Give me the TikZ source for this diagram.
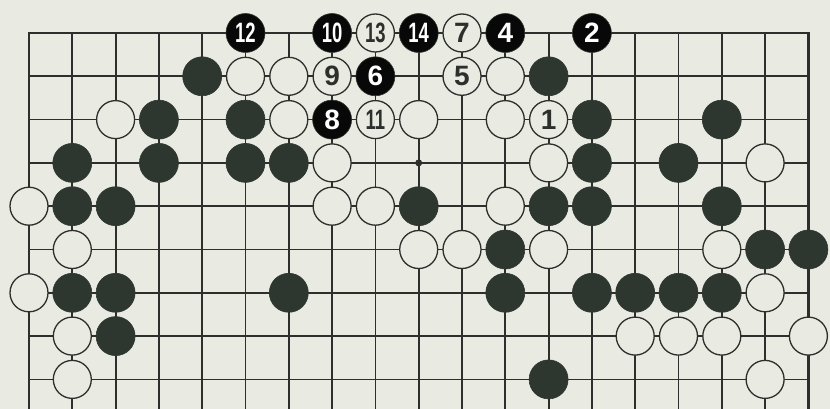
\documentclass[tikz,border=0pt]{standalone}
\usepackage{fontspec}
\setmainfont{Liberation Sans}
\usepackage{tikz}
\usetikzlibrary{positioning}
\definecolor{paper}{RGB}{233,235,226}
\definecolor{ink}{RGB}{44,47,43}
\definecolor{stoneblack}{RGB}{46,55,47}
\newcommand{\dnum}[1]{\scalebox{0.66}[1]{#1}}
\tikzset{
  gridline/.style={draw=ink, line width=1.8pt},
  edgeline/.style={draw=ink, line width=2.8pt, line cap=rect},
  whitestone/.style={circle, draw=ink, fill=paper, line width=1.3pt, minimum size=38pt, inner sep=0pt},
  blackstone/.style={circle, draw=stoneblack, fill=stoneblack, line width=0.6pt, minimum size=39pt, inner sep=0pt},
  movewhite/.style={whitestone, font=\fontsize{28}{28}\selectfont\bfseries, text=ink},
  moveblack/.style={blackstone, fill=black!85!stoneblack, font=\fontsize{28}{28}\selectfont\bfseries, text=white},
  hoshi/.style={circle, fill=ink, minimum size=7pt, inner sep=0pt}
}
\begin{document}
\begin{tikzpicture}[x=43.3pt, y=-43.3pt]
\useasboundingbox[fill=paper] (-29pt,33pt) rectangle (801pt,-376pt);
% board lines
\foreach \c in {1,...,17} \draw[gridline] (\c,0) -- (\c,8.69);
\foreach \r in {1,...,8} \draw[gridline] (0,\r) -- (18,\r);
\draw[edgeline] (0,8.69) -- (0,0) -- (18,0) -- (18,8.69);
\node[hoshi] (star) at (9,3) {};
% black stones
\foreach \c/\r in {4/1,12/1, 3/2,5/2,13/2,16/2, 1/3,3/3,5/3,6/3,13/3,15/3,
  1/4,2/4,9/4,12/4,13/4,16/4, 11/5,17/5,18/5, 1/6,2/6,6/6,11/6,13/6,14/6,15/6,16/6,
  2/7, 12/8}
  \node[blackstone] (b-\c-\r) at (\c,\r) {};
% white stones
\foreach \c/\r in {5/1,6/1,11/1, 2/2,6/2,9/2,11/2, 7/3,12/3,17/3,
  0/4,7/4,8/4,11/4, 1/5,9/5,10/5,12/5,16/5, 0/6,17/6,
  1/7,14/7,15/7,16/7,18/7, 1/8,17/8}
  \node[whitestone] (w-\c-\r) at (\c,\r) {};
% numbered moves
\foreach \c/\r/\n in {13/0/2, 11/0/4, 8/1/6, 7/2/8, 7/0/\dnum{10}, 5/0/\dnum{12}, 9/0/\dnum{14}}
  \node[moveblack] (mb-\c-\r) at (\c,\r) {\n};
\foreach \c/\r/\n in {12/2/1, 10/1/5, 10/0/7, 7/1/9, 8/2/\dnum{11}, 8/0/\dnum{13}}
  \node[movewhite] (mw-\c-\r) at (\c,\r) {\n};
\end{tikzpicture}
\end{document}
